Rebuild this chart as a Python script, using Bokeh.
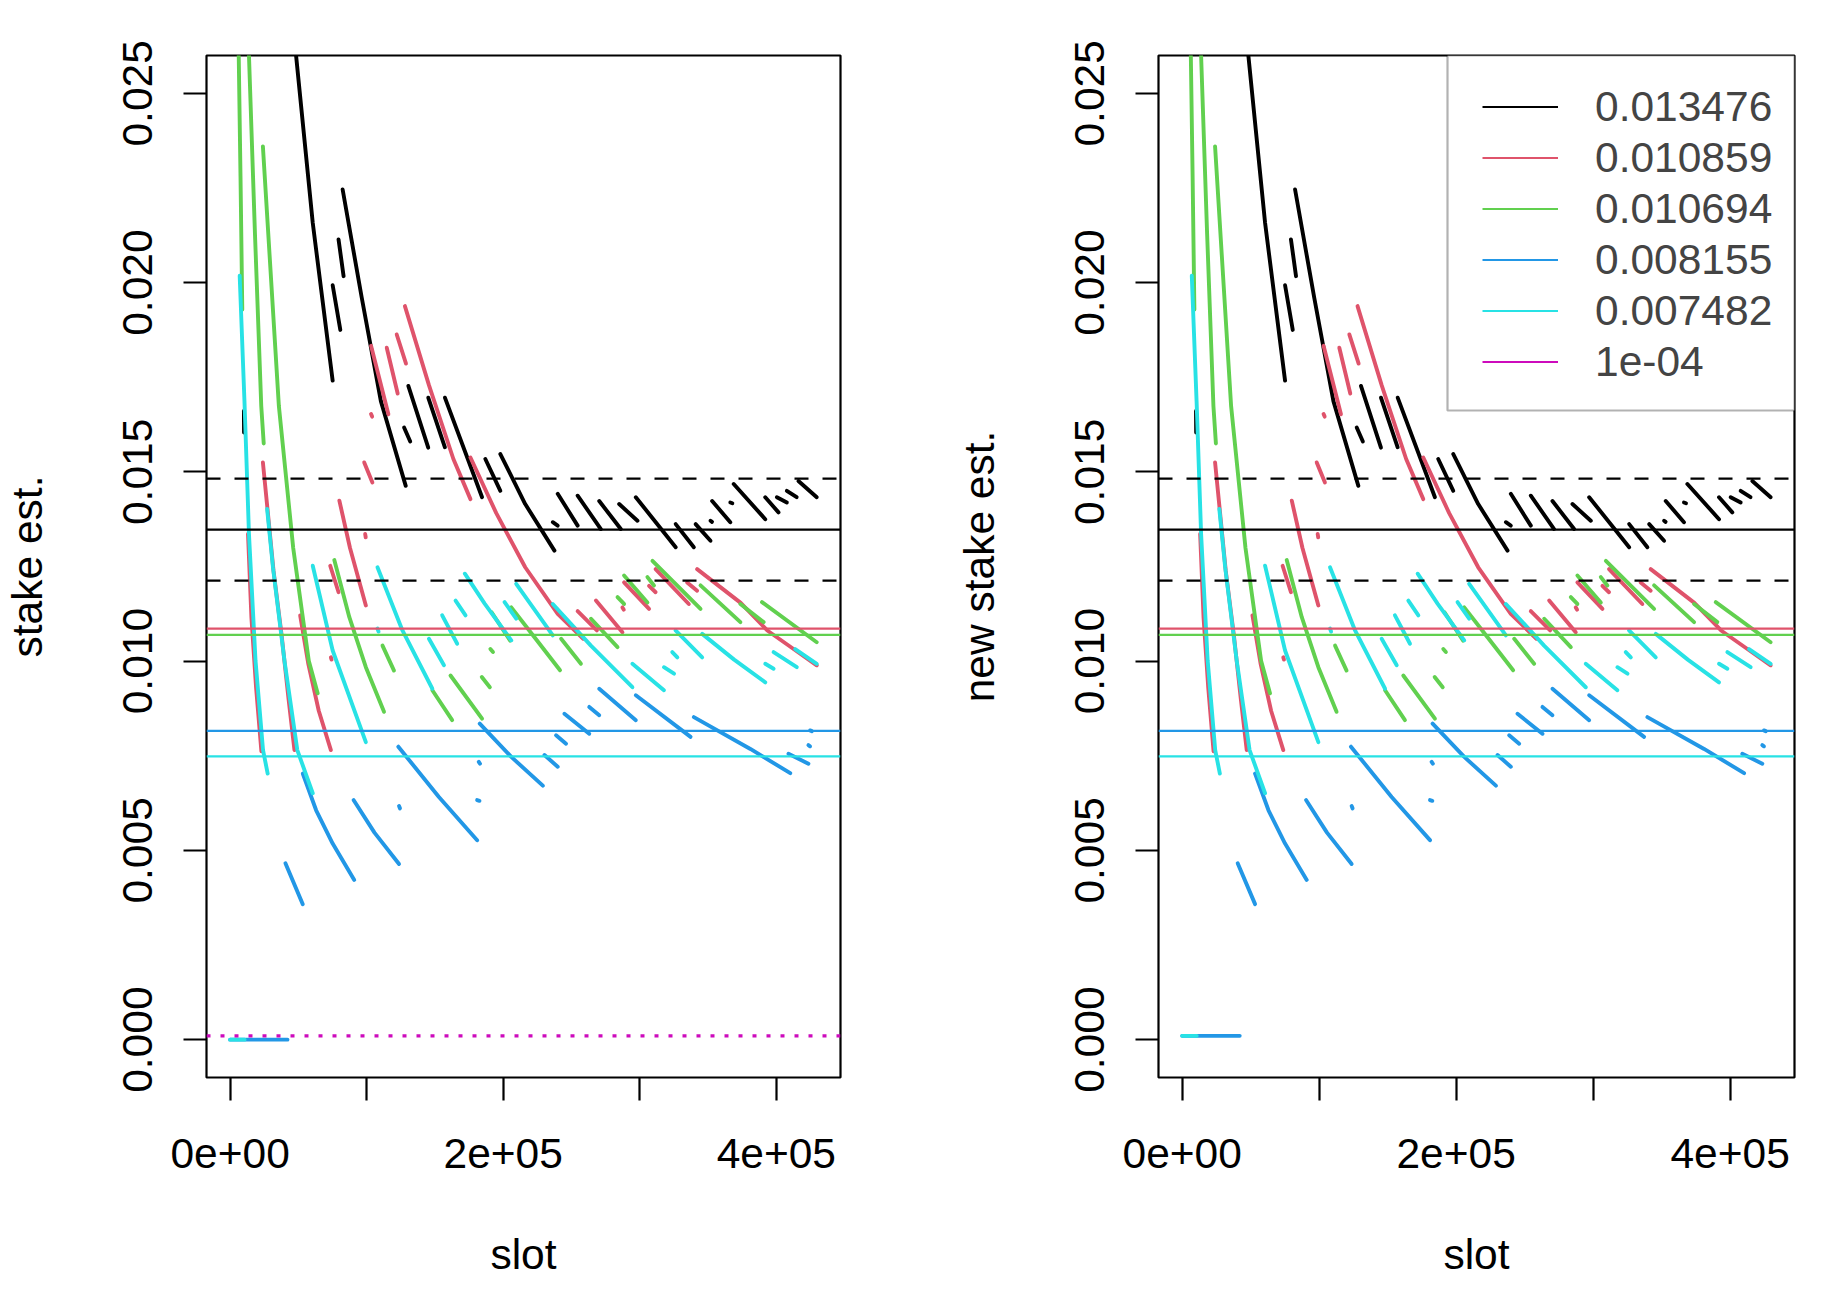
from bokeh.plotting import figure
from bokeh.layouts import row
from bokeh.models import BoxAnnotation, FixedTicker, Legend, LegendItem, Range1d
from bokeh.embed import file_html
from bokeh.resources import INLINE

# True relative stakes of the pools and how they are labelled
stake_labels = ["0.013476", "0.010859", "0.010694", "0.008155", "0.007482", "1e-04"]
stake_values = [0.013476, 0.010859, 0.010694, 0.008155, 0.007482, 0.0001]
pool_colors = ["#000000", "#DF536B", "#61D04F", "#2297E6", "#28E2E5", "#CD0BBC"]

# Estimate trajectories: each pool is a list of pieces (slot, estimate)
black_x = [
    [48300, 60500, 75100], [79400, 83100], [75100, 80700],
    [82400, 96400, 110400, 128600], [130500, 145100], [127400, 131900],
    [145100, 157300], [157300, 184500], [186900, 197900],
    [197900, 216100, 237500], [236300, 239900], [239900, 254500],
    [254500, 271500], [270300, 286100], [284900, 298300], [297100, 326300],
    [326300, 339600], [340900, 351800], [351800, 352900], [353000, 366300],
    [366300, 367800], [368800, 391900], [391900, 401600], [400400, 407700],
    [407700, 414900], [416200, 429600], [10100, 10200],
]
black_y = [
    [0.0260, 0.02158, 0.01741], [0.02114, 0.02017], [0.01993, 0.01875],
    [0.02246, 0.01960, 0.01687, 0.01463], [0.01727, 0.01564], [0.01617, 0.01580],
    [0.01696, 0.01565], [0.01696, 0.01433], [0.01534, 0.01450],
    [0.01547, 0.01415, 0.01292], [0.01367, 0.01358], [0.01442, 0.01358],
    [0.01437, 0.01349], [0.01423, 0.01349], [0.01415, 0.01371], [0.01433, 0.01301],
    [0.01362, 0.01301], [0.01362, 0.01318], [0.01371, 0.01368], [0.01423, 0.01367],
    [0.01419, 0.01417], [0.01468, 0.01375], [0.01433, 0.01393], [0.01433, 0.01419],
    [0.01450, 0.01433], [0.01476, 0.01433], [0.01661, 0.01604],
]

red_x = [
    [128000, 145600, 163500, 176000], [122000, 128800], [114700, 122700],
    [103200, 115900], [103200, 104000], [98200, 104200], [98900, 99300],
    [80000, 87800, 99400], [73300, 79400], [73800, 74300],
    [176000, 194900, 216100, 239900, 258600], [254500, 268600], [267900, 287300],
    [288500, 306800], [287300, 288300], [306800, 311600], [311600, 335900],
    [334700, 342000], [342000, 373900, 393400, 412600, 429600],
    [13100, 15600, 19000, 22900], [24000, 27500, 31800, 37700, 42800, 47100],
    [51300, 57300, 64900, 73800],
]
red_y = [
    [0.01938, 0.01729, 0.01534, 0.01428], [0.01863, 0.01786], [0.01828, 0.01707],
    [0.01833, 0.01652], [0.01653, 0.01646], [0.01525, 0.01472], [0.01336, 0.01327],
    [0.01424, 0.01299, 0.01147], [0.01252, 0.01182], [0.01010, 0.01004],
    [0.01538, 0.01391, 0.01248, 0.01125, 0.01059], [0.01132, 0.01081], [0.01160, 0.01076],
    [0.01208, 0.01138], [0.01142, 0.01136], [0.01199, 0.01182], [0.01243, 0.01151],
    [0.01208, 0.01186], [0.01243, 0.01154, 0.01081, 0.01032, 0.00989],
    [0.01336, 0.01115, 0.00931, 0.00762], [0.01525, 0.01397, 0.01238, 0.01069, 0.00900, 0.00765],
    [0.01121, 0.00992, 0.00869, 0.00765],
]

green_x = [
    [6300, 7600, 8900], [13800, 18200, 22800, 24600],
    [24000, 35700, 46200, 57600, 64100], [76300, 87300, 99400, 112700],
    [111600, 120000], [161400, 184500], [148100, 162600], [190600, 192500],
    [184300, 190200], [191500, 205100], [205900, 222900, 241600],
    [242400, 256900], [264300, 283700], [283700, 288500], [288500, 305600],
    [305600, 310400], [309300, 344500], [344500, 373700], [373700, 390700],
    [389500, 429600],
]
green_y = [
    [0.0260, 0.02282, 0.01929], [0.0260, 0.02128, 0.01674, 0.01575],
    [0.02360, 0.01674, 0.01299, 0.01001, 0.00915], [0.01267, 0.01116, 0.00984, 0.00866],
    [0.01041, 0.00975], [0.00962, 0.00848], [0.00923, 0.00844], [0.01032, 0.01024],
    [0.00958, 0.00931], [0.01129, 0.01054], [0.01142, 0.01063, 0.00976],
    [0.01059, 0.00993], [0.01112, 0.01037], [0.01169, 0.01151], [0.01226, 0.01155],
    [0.01222, 0.01200], [0.01265, 0.01138], [0.01200, 0.01103], [0.01151, 0.01103],
    [0.01156, 0.01050],
]

blue_x = [
    [0, 42000],
    [53200, 63000, 75100, 90900], [40500, 53200], [90400, 105700, 123700],
    [123700, 124400], [123200, 152900, 180900], [182100, 183000], [180900, 182600],
    [182800, 205900, 229000], [230200, 239900], [238700, 246000], [244800, 263000],
    [263000, 270300], [270300, 297100], [297100, 337200],
    [339600, 381000, 410200], [408900, 423500], [424700, 426000], [423500, 424700],
]
blue_y = [
    [0.0, 0.0],
    [0.00703, 0.00606, 0.00518, 0.00422], [0.00466, 0.00358], [0.00633, 0.00547, 0.00464],
    [0.00617, 0.00611], [0.00774, 0.00641, 0.00527], [0.00734, 0.00729], [0.00633, 0.00631],
    [0.00835, 0.00747, 0.00671], [0.00752, 0.00721], [0.00804, 0.00782], [0.00861, 0.00808],
    [0.00879, 0.00857], [0.00927, 0.00844], [0.00910, 0.00800],
    [0.00852, 0.00768, 0.00704], [0.00755, 0.00729], [0.00817, 0.00815], [0.00778, 0.00775],
]

cyan_x = [
    [0, 10600],
    [7000, 10500, 13800, 18600, 24100, 27500], [27100, 31400, 39800, 49200, 60500],
    [60500, 75100, 99400], [107900, 126200, 148100], [107900, 108700],
    [145600, 156600], [155300, 166300], [165100, 172400], [171900, 186400, 205900],
    [201000, 209500], [209500, 236300], [236300, 264200, 294600], [294600, 317700],
    [317700, 325100], [323800, 327500], [326200, 345700], [345700, 369100, 391900],
    [391900, 398000], [398000, 415000], [413800, 429600],
]
cyan_y = [
    [0.0, 0.0],
    [0.02018, 0.01687, 0.01336, 0.01001, 0.00765, 0.00703], [0.01402, 0.01247, 0.01001, 0.00765, 0.00651],
    [0.01252, 0.01028, 0.00786], [0.01248, 0.01081, 0.00927], [0.01086, 0.01078],
    [0.01059, 0.00989], [0.01121, 0.01046], [0.01160, 0.01121], [0.01231, 0.01152, 0.01055],
    [0.01156, 0.01112], [0.01204, 0.01068], [0.01151, 0.01041, 0.00931], [0.00993, 0.00923],
    [0.00984, 0.00967], [0.01024, 0.01010], [0.01081, 0.01010], [0.01072, 0.01004, 0.00944],
    [0.00993, 0.00980], [0.01024, 0.00984], [0.01032, 0.00993],
]

# Level of the not-yet-seen pools before their first block, per panel
initial_level = [0.0, 0.0001]

X_LO, X_HI = -17300, 447000
Y_LO, Y_HI = -0.001, 0.026
FONT = "Liberation Sans"
FS = "42.5px"
NAN = float("nan")


def shifted(ys, level):
    # the opening piece of a trajectory sits at the panel's initial level
    out = [list(seg) for seg in ys]
    out[0] = [level, level]
    return out


def panel(ylabel, level, left, right, fw, show_floor, show_legend):
    p = figure(frame_width=fw, frame_height=1022,
               x_range=Range1d(X_LO, X_HI), y_range=Range1d(Y_LO, Y_HI),
               min_border_left=left, min_border_right=right,
               min_border_top=55, min_border_bottom=213,
               output_backend="svg", toolbar_location=None,
               background_fill_color="white", border_fill_color="white")
    p.xgrid.visible = False
    p.ygrid.visible = False
    p.outline_line_color = "black"
    p.outline_line_width = 2.2

    series = [(black_x, black_y), (red_x, red_y), (green_x, green_y),
              (blue_x, shifted(blue_y, level)), (cyan_x, shifted(cyan_y, level))]
    for (xs, ys), col in zip(series, pool_colors):
        p.multi_line(xs=xs, ys=ys, line_color=col, line_width=3.9,
                     line_cap="round", line_join="round")

    refs = []
    for v, col in zip(stake_values[:5], pool_colors[:5]):
        refs.append(p.line([X_LO, X_HI], [v, v], line_color=col, line_width=2.2))
    for k in (1.1, 0.9):
        v = stake_values[0] * k
        p.line([X_LO, X_HI], [v, v], line_color="black", line_width=2.2,
               line_dash="14 14")
    if show_floor:
        refs.append(p.line([X_LO, X_HI], [stake_values[5]] * 2,
                           line_color=pool_colors[5], line_width=3.2,
                           line_dash="4 10"))
    else:
        # the 1e-04 pool has no reference line here, only its legend key
        refs.append(p.line([NAN, NAN], [NAN, NAN], line_color=pool_colors[5],
                           line_width=2.2))

    if show_legend:
        # legend frame, flush with the top-right corner of the plot box
        p.add_layout(BoxAnnotation(left=532, right=879, top=55, bottom=410,
                                   left_units="canvas", right_units="canvas",
                                   top_units="canvas", bottom_units="canvas",
                                   fill_color="white", fill_alpha=1.0,
                                   line_color="black", line_width=2.2))
        items = [LegendItem(label=lab, renderers=[r]) for lab, r in zip(stake_labels, refs)]
        lg = Legend(items=items, location=(324, 690), padding=15,
                    spacing=0, label_height=51, glyph_height=51, glyph_width=76,
                    label_standoff=37, label_text_font=FONT, label_text_font_size=FS,
                    border_line_color=None, background_fill_alpha=0.0)
        p.add_layout(lg)

    xa = p.xaxis[0]
    xa.ticker = FixedTicker(ticks=[0, 100000, 200000, 300000, 400000])
    xa.major_label_overrides = {0: "0e+00", 100000: "", 200000: "2e+05",
                                300000: "", 400000: "4e+05"}
    xa.axis_label = "slot"
    ya = p.yaxis[0]
    ya.ticker = FixedTicker(ticks=[0, 0.005, 0.01, 0.015, 0.02, 0.025])
    ya.major_label_overrides = {0: "0.000", 0.005: "0.005", 0.01: "0.010",
                                0.015: "0.015", 0.02: "0.020", 0.025: "0.025"}
    ya.major_label_orientation = "vertical"
    ya.axis_label = ylabel
    for ax in (xa, ya):
        ax.axis_line_color = None
        ax.major_tick_out = 23
        ax.major_tick_in = 0
        ax.minor_tick_line_color = None
        ax.major_tick_line_color = "black"
        ax.major_tick_line_width = 2.2
        ax.major_label_text_font = FONT
        ax.major_label_text_font_size = FS
        ax.major_label_text_color = "black"
        ax.axis_label_text_font = FONT
        ax.axis_label_text_font_size = FS
        ax.axis_label_text_font_style = "normal"
        ax.axis_label_text_color = "black"
    xa.major_label_standoff = 38
    xa.axis_label_standoff = 60
    ya.major_label_standoff = 31
    ya.axis_label_standoff = 70
    return p


p1 = panel("stake est.", initial_level[0], 204, 75, 634, True, False)
p2 = panel("new stake est.", initial_level[1], 243, 34, 636, False, True)
layout = row(p1, p2)

open("out.html", "w").write(file_html(layout, INLINE))
